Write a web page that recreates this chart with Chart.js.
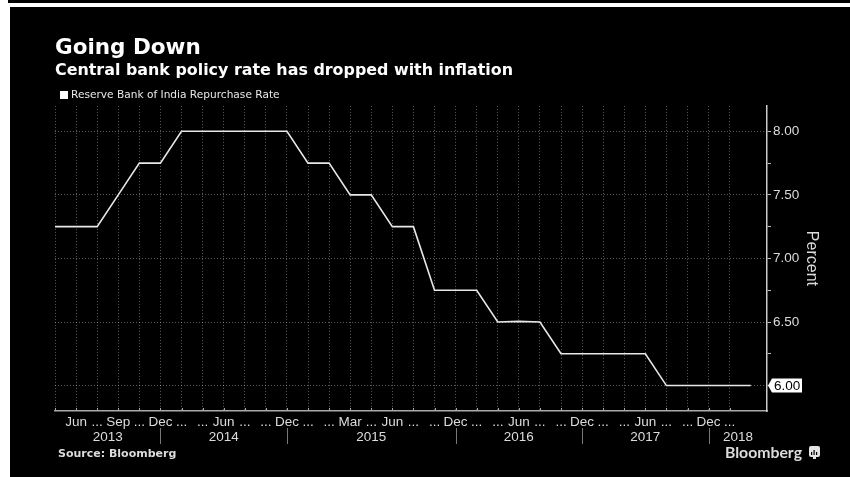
<!DOCTYPE html>
<html>
<head>
<meta charset="utf-8">
<script src="https://cdn.jsdelivr.net/npm/chart.js@4/dist/chart.umd.min.js"></script>
<style>
  html, body { margin: 0; padding: 0; background: #fff; overflow: hidden; }
  body { width: 850px; height: 477px; position: relative; }
  #topBand { position: absolute; left: 8px; top: 0; width: 842px; height: 3px; background: #000; }
  #panel { position: absolute; left: 10px; top: 7px; width: 840px; height: 470px; background: #000; }
</style>
</head>
<body>
<div id="topBand"></div>
<div id="panel"><canvas id="rateChart" width="840" height="470"></canvas></div>
<script>
// Repo rate, one value per axis slot
const rateValues = [7.25, 7.25, 7.25, 7.5, 7.75, 7.75, 8, 8, 8, 8, 8, 8, 7.75, 7.75, 7.5, 7.5, 7.25, 7.25,
    6.75, 6.75, 6.75, 6.5, 6.505, 6.5, 6.25, 6.25, 6.25, 6.25, 6.25, 6, 6, 6, 6, 6];
const tickLabels = ['', 'Jun', '...', 'Sep', '...', 'Dec', '...', '...', 'Jun', '...', '...', 'Dec', '...', '...',
    'Mar', '...', 'Jun', '...', '...', 'Dec', '...', '...', 'Jun', '...', '...', 'Dec', '...', '...', 'Jun', '...',
    '...', 'Dec', '...', ''];
const yearLabels = ['2013', '2014', '2015', '2016', '2017', '2018'];
const yearCenters = [2.5, 8, 15, 22, 28, 32.4];
const yearBreaks = [5, 11, 19, 25, 31];

const FONT = '"DejaVu Sans"';
const AXIS_FONT = '"Liberation Sans"';
const TEXT = '#dcdcdc';
const GRID = 'rgba(255,255,255,0.36)';

// Legend key, year row, separators, value flag and footer text
const extrasPlugin = {
    id: 'extras',
    afterDraw(chart) {
        const { ctx, scales: { x, y } } = chart;
        const base = y.bottom;
        ctx.save();

        // legend sits tight above the plot, so it is placed by hand
        ctx.fillStyle = '#fff';
        ctx.fillRect(50, 84, 8, 8);
        ctx.fillStyle = '#e8e8e8';
        ctx.font = '10.6px ' + FONT;
        ctx.textBaseline = 'middle';
        ctx.fillText(chart.data.datasets[0].label, 61, 88.5);

        // x tick marks point up into the plot
        ctx.strokeStyle = '#aaa';
        ctx.lineWidth = 1;
        x.ticks.forEach(t => {
            if (t.value >= 33) return;
            const px = Math.round(x.getPixelForValue(t.value)) + 0.5;
            ctx.beginPath();
            ctx.moveTo(px, base - 3);
            ctx.lineTo(px, base);
            ctx.stroke();
        });

        ctx.strokeStyle = '#777';
        yearBreaks.forEach(b => {
            const px = Math.round(x.getPixelForValue(b)) + 0.5;
            ctx.beginPath();
            ctx.moveTo(px, base + 17);
            ctx.lineTo(px, base + 33);
            ctx.stroke();
        });

        ctx.fillStyle = TEXT;
        ctx.font = '13.5px ' + AXIS_FONT;
        ctx.textAlign = 'center';
        yearLabels.forEach((label, i) => {
            ctx.fillText(label, x.getPixelForValue(yearCenters[i]), base + 26.5);
        });

        // flag with the latest value on the right axis
        const last = rateValues[rateValues.length - 1];
        const ly = y.getPixelForValue(last);
        const ax = x.right + 1;
        ctx.fillStyle = '#fff';
        ctx.beginPath();
        ctx.moveTo(ax, ly);
        ctx.lineTo(ax + 4, ly - 7);
        ctx.lineTo(ax + 34, ly - 7);
        ctx.lineTo(ax + 34, ly + 7);
        ctx.lineTo(ax + 4, ly + 7);
        ctx.closePath();
        ctx.fill();
        ctx.fillStyle = '#000';
        ctx.textAlign = 'left';
        ctx.fillText(last.toFixed(2), ax + 6, ly + 0.5);

        // source line
        ctx.fillStyle = TEXT;
        ctx.font = 'bold 11px ' + FONT;
        ctx.fillText('Source: Bloomberg', 48, 447);

        // wordmark and its small bubble icon
        ctx.font = 'bold 15.8px Lato';
        ctx.textAlign = 'right';
        ctx.fillText('Bloomberg', 792, 446);
        ctx.fillStyle = '#e4e4e4';
        ctx.beginPath();
        ctx.roundRect(799, 439, 11, 11, 2);
        ctx.fill();
        ctx.fillRect(803, 450, 3, 2);
        ctx.fillStyle = '#000';
        [[801, 3], [803.5, 5], [806, 3]].forEach(([bx, h]) => ctx.fillRect(bx, 448 - h, 1.2, h));
        ctx.restore();
    }
};

new Chart(document.getElementById('rateChart'), {
    type: 'line',
    data: {
        datasets: [{
            label: 'Reserve Bank of India Repurchase Rate',
            data: rateValues.map((v, i) => ({ x: i, y: v })),
            borderColor: '#e8e8e8',
            borderWidth: 1.6,
            pointRadius: 0,
            tension: 0
        }]
    },
    options: {
        responsive: false,
        animation: false,
        layout: { padding: { left: 45, top: 0, right: 0, bottom: 0 } },
        plugins: {
            title: {
                display: true,
                text: 'Going Down',
                align: 'start',
                color: '#fff',
                font: { family: FONT, size: 21.5, weight: 'bold' },
                padding: { top: 29, bottom: 0 }
            },
            subtitle: {
                display: true,
                text: 'Central bank policy rate has dropped with inflation',
                align: 'start',
                color: '#fff',
                font: { family: FONT, size: 15.9, weight: 'bold' },
                padding: { top: 0, bottom: 25 }
            },
            legend: { display: false },
            tooltip: { enabled: false }
        },
        scales: {
            x: {
                type: 'linear',
                min: 0,
                max: 33.77,
                grid: {
                    color: c => (c.tick && c.tick.value < 33 ? GRID : 'transparent'),
                    drawTicks: false
                },
                border: { color: '#aaa', width: 1.5, dash: [1, 2] },
                ticks: {
                    stepSize: 1,
                    autoSkip: false,
                    includeBounds: false,
                    maxRotation: 0,
                    padding: 3,
                    color: TEXT,
                    font: { family: AXIS_FONT, size: 13.5 },
                    callback: v => tickLabels[v] ?? ''
                },
                afterFit(scale) { scale.height = 66; }
            },
            y: {
                position: 'right',
                min: 5.8,
                max: 8.2,
                grid: {
                    color: c => (c.tick && c.tick.value % 0.5 === 0 ? GRID : 'transparent'),
                    tickColor: '#bbb',
                    tickBorderDash: [],
                    tickLength: 4
                },
                border: { color: '#ccc', width: 1.5, dash: [1, 2] },
                title: {
                    display: true,
                    text: 'Percent',
                    color: TEXT,
                    font: { family: AXIS_FONT, size: 16 },
                    padding: { top: 29, bottom: 0 }
                },
                ticks: {
                    stepSize: 0.25,
                    includeBounds: false,
                    padding: 2,
                    color: TEXT,
                    font: { family: AXIS_FONT, size: 13.5 },
                    callback: v => (v % 0.5 === 0 && v !== rateValues[rateValues.length - 1] ? v.toFixed(2) : '')
                },
                afterFit(scale) { scale.width = 83; }
            }
        }
    },
    plugins: [extrasPlugin]
});
</script>
</body>
</html>
